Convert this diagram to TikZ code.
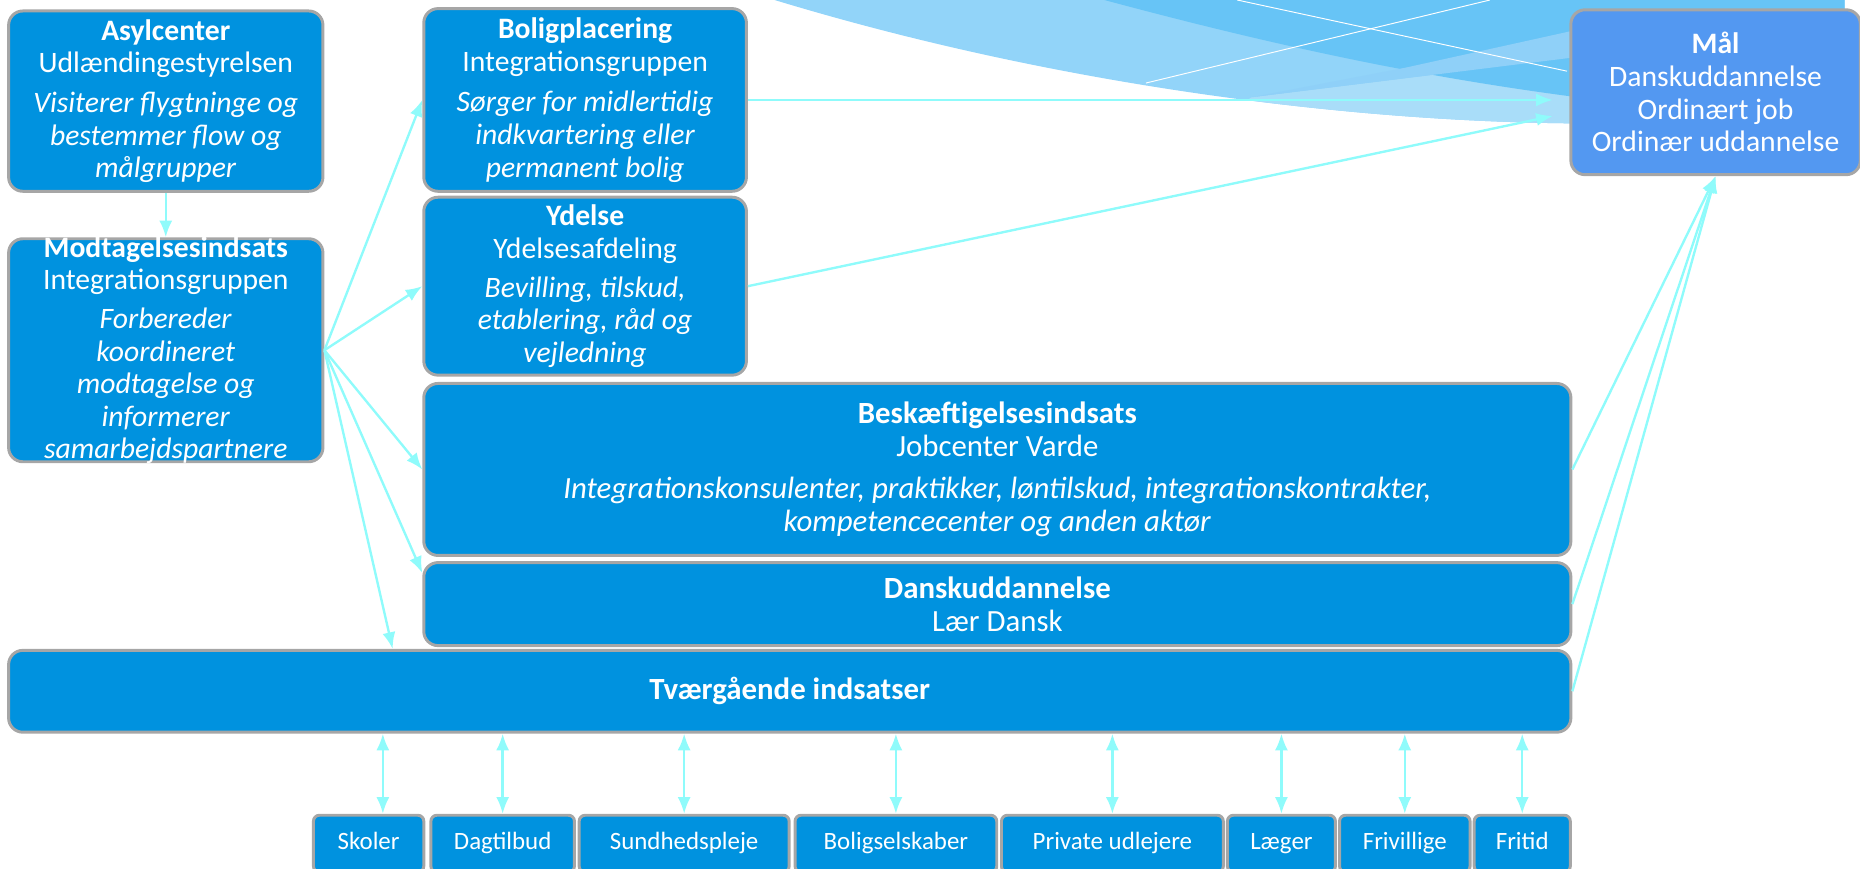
\documentclass[tikz,border=0pt]{standalone}
\usepackage{fontspec}
\setmainfont{Carlito}
\usetikzlibrary{positioning, arrows.meta}
\definecolor{boxblue}{RGB}{0,146,223}
\definecolor{boxline}{RGB}{166,166,166}
\definecolor{maalblue}{RGB}{83,152,241}
\definecolor{flowcyan}{RGB}{143,251,251}
\definecolor{bandA}{RGB}{146,212,249}
\definecolor{bandB}{RGB}{103,196,246}
\definecolor{bandC}{RGB}{143,208,248}
\definecolor{bandL}{RGB}{169,221,249}
\tikzset{
	box/.style={draw=boxline, line width=2.5pt, fill=boxblue, rounded corners=12pt, text=white, align=center, inner sep=0pt, font=\fontsize{25}{27.5}\selectfont},
	bigbox/.style={box, font=\fontsize{26}{28}\selectfont},
	partner/.style={box, rounded corners=5pt, minimum height=48pt, text height=14pt, text depth=4pt, font=\fontsize{21}{24}\selectfont},
	flow/.style={draw=flowcyan, line width=2pt, -{Latex[length=14pt,width=11pt]}},
	both/.style={flow, {Latex[length=14pt,width=11pt]}-{Latex[length=14pt,width=11pt]}}
}
\begin{document}
\begin{tikzpicture}[x=1pt, y=-1pt, node distance=1.5pt]
		\useasboundingbox (0,0) rectangle (1568,732);
		\clip (0,0) rectangle (1568,732);
		\path[fill=bandA] (653,0) .. controls (900,75) and (1150,103) .. (1330,104) -- (1555,104) -- (1555,0) -- cycle;
		\begin{scope}
			\clip (653,0) .. controls (900,75) and (1150,103) .. (1330,104) -- (1555,104) -- (1555,0) -- cycle;
			\path[fill=bandL] (1055,82) -- (1330,48) -- (1330,120) -- (1000,120) -- cycle;
		\end{scope}
		\path[fill=bandB] (931,0) .. controls (1080,40) and (1200,65) .. (1330,82) -- (1555,82) -- (1555,0) -- cycle;
		\path[fill=bandC] (1055,82) -- (1330,48) -- (1330,25) -- (1185,57) -- cycle;
		\draw[white, line width=0.8pt] (1043,0) -- (1321,60);
		\draw[white, line width=0.8pt] (966,70) -- (1256,0);

		\node[box, anchor=north west, minimum width=265pt, minimum height=152pt] (asyl) at (6,8)
			{\textbf{Asylcenter}\\Udlændingestyrelsen\\[6pt]\textit{Visiterer flygtninge og}\\\textit{bestemmer flow og}\\\textit{målgrupper}};
		\node[box, below=37.5pt of asyl, minimum width=265pt, minimum height=188pt, inner ysep=-3pt] (modt)
			{\textbf{Modtagelsesindsats}\\Integrationsgruppen\\[5pt]\textit{Forbereder}\\\textit{koordineret}\\\textit{modtagelse og}\\\textit{informerer}\\\textit{samarbejdspartnere}};
		\node[box, anchor=north west, minimum width=272pt, minimum height=154pt] (bolig) at (356,6)
			{\textbf{Boligplacering}\\Integrationsgruppen\\[7pt]\textit{Sørger for midlertidig}\\\textit{indkvartering eller}\\\textit{permanent bolig}};
		\node[box, below=2.5pt of bolig, minimum width=272pt, minimum height=150pt] (ydelse)
			{\textbf{Ydelse}\\Ydelsesafdeling\\[5pt]\textit{Bevilling, tilskud,}\\\textit{etablering, råd og}\\\textit{vejledning}};
		\node[bigbox, below=4.5pt of ydelse.south west, anchor=north west, minimum width=967pt, minimum height=145pt] (besk)
			{\textbf{Beskæftigelsesindsats}\\Jobcenter Varde\\[7pt]\textit{Integrationskonsulenter, praktikker, løntilskud, integrationskontrakter,}\\\textit{kompetencecenter og anden aktør}};
		\node[bigbox, below=3.5pt of besk, minimum width=967pt, minimum height=70pt] (dansk)
			{\textbf{Danskuddannelse}\\Lær Dansk};
		\node[bigbox, below=1.5pt of dansk.south east, anchor=north east, minimum width=1317pt, minimum height=69pt] (tvaer)
			{\textbf{Tværgående indsatser}};
		\node[box, fill=maalblue, anchor=north west, minimum width=244pt, minimum height=139pt] (maal) at (1323,7)
			{\textbf{Mål}\\Danskuddannelse\\Ordinært job\\Ordinær uddannelse};

		\node[partner, anchor=north west, minimum width=93pt] (skoler) at (263,686) {Skoler};
		\node[partner, right=3.5pt of skoler, minimum width=121pt] (dagtilbud) {Dagtilbud};
		\node[partner, right=of dagtilbud, minimum width=177pt] (sundhed) {Sundhedspleje};
		\node[partner, right=2.5pt of sundhed, minimum width=170pt] (boligsel) {Boligselskaber};
		\node[partner, right=of boligsel, minimum width=187pt] (privat) {Private udlejere};
		\node[partner, right=1pt of privat, minimum width=91pt] (laeger) {Læger};
		\node[partner, right=1pt of laeger, minimum width=110pt] (frivil) {Frivillige};
		\node[partner, right=1pt of frivil, minimum width=81pt] (fritid) {Fritid};

		\draw[flow] (asyl) -- (modt);
		\foreach \to in {bolig.west, ydelse.west, besk.west}
			\draw[flow] (modt.east) -- (\to);
		\draw[flow] (modt.east) -- ([yshift=-10pt]dansk.north west);
		\draw[flow] (modt.east) -- ([xshift=325pt]tvaer.north west);
		\draw[flow, shorten >=14pt] (bolig.east) -- (bolig.east -| maal.west);
		\draw[flow] (ydelse.east) -- ([xshift=-14pt, yshift=-20pt]maal.west);
		\foreach \from in {besk, dansk, tvaer}
			\draw[flow] (\from.east) -- (maal.south);
		\draw[both] ([xshift=12pt]skoler.north) -- ([xshift=12pt]skoler.north |- tvaer.south);
		\foreach \p in {dagtilbud, sundhed, boligsel, privat, laeger, frivil, fritid}
			\draw[both] (\p.north) -- (\p.north |- tvaer.south);
	\end{tikzpicture}
\end{document}
